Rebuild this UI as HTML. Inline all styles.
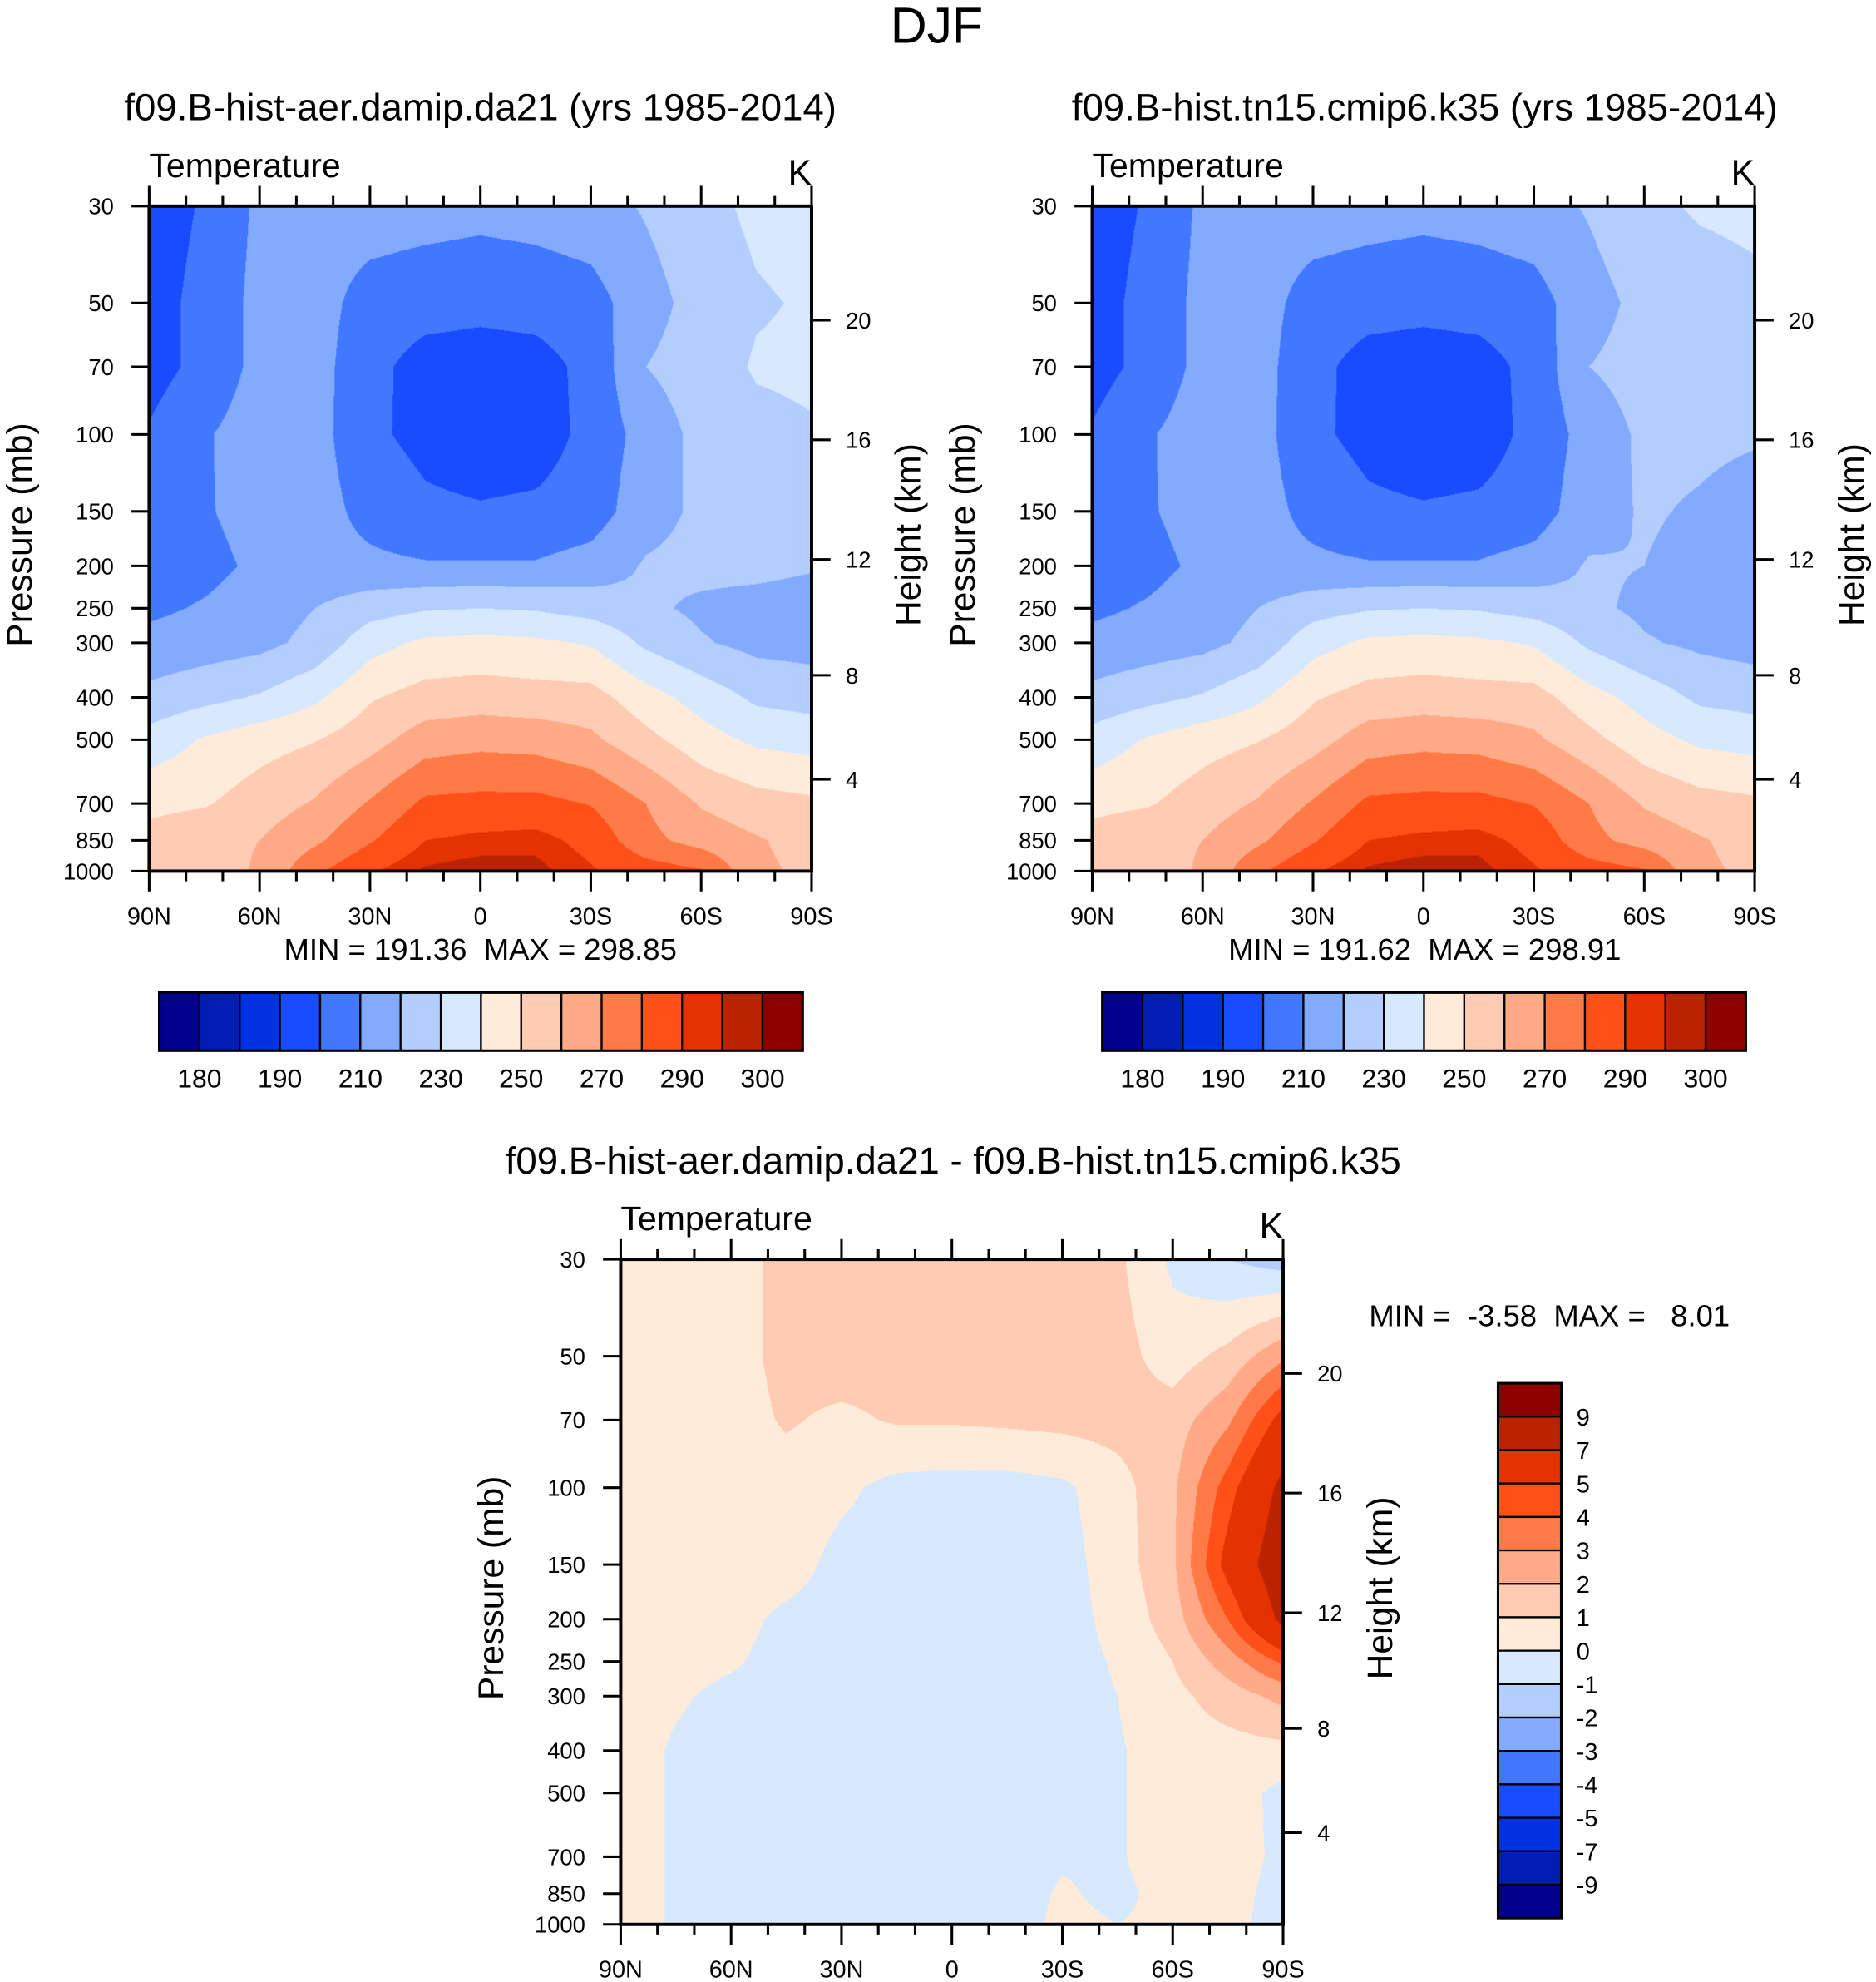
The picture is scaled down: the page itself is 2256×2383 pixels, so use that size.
<!DOCTYPE html>
<html><head><meta charset="utf-8"><style>
html,body{margin:0;padding:0;background:#fff;}
#wrap{position:absolute;left:0;top:0;width:1484px;height:1567px;transform:scale(1.520216);transform-origin:0 0;overflow:hidden;}
canvas{position:absolute;}
svg{position:absolute;left:0;top:0;}
text{font-family:"Liberation Sans",Arial,sans-serif;fill:#000;}
</style></head><body>
<div id="wrap">
<canvas id="c1"></canvas>
<canvas id="c2"></canvas>
<canvas id="c3"></canvas>
<svg id="ov" width="1484" height="1567" viewBox="0 0 1484 1567">
<text x="741" y="34" font-size="40" text-anchor="middle">DJF</text>
<text x="380" y="95" font-size="30" text-anchor="middle">f09.B-hist-aer.damip.da21 (yrs 1985-2014)</text>
<text x="1127" y="95" font-size="30" text-anchor="middle">f09.B-hist.tn15.cmip6.k35 (yrs 1985-2014)</text>
<text x="754" y="928" font-size="30" text-anchor="middle">f09.B-hist-aer.damip.da21 - f09.B-hist.tn15.cmip6.k35</text>
<text x="380" y="759" font-size="24" text-anchor="middle" xml:space="preserve">MIN = 191.36  MAX = 298.85</text>
<text x="1127" y="759" font-size="24" text-anchor="middle" xml:space="preserve">MIN = 191.62  MAX = 298.91</text>
<text x="1083" y="1049" font-size="24" xml:space="preserve">MIN =  -3.58  MAX =   8.01</text>
</svg>
</div>
<script>
const LEV=[30,50,70,100,150,200,250,300,400,500,700,850,1000];
const LATS=[90,75,60,45,30,15,0,-15,-30,-45,-60,-75,-90];
const TLEV=[180,185,190,200,210,220,230,240,250,260,270,280,290,295,300];
const DLEV=[-9,-7,-5,-4,-3,-2,-1,0,1,2,3,4,5,7,9];
const COLORS=["#00008c","#001eb4","#0032e1","#194bff","#4178ff","#82aaff","#b4cdff","#d7e9ff","#ffebda","#ffcbb2","#ffaa87","#ff7a46","#ff5019","#e43200","#b92300","#8c0000"];
const T1=[
[195,201,212,214,215,214,213,214,216,221,227,232,234],
[196,203,213,214,206,204,203,204,206,216,224,229,231],
[196,203,213,214,203,196,195,196,203,220,225,231,232],
[201,209,215,214,202,197,194,195,203,214,223,227,229],
[204,209,214,214,207,202,201,202,205,216,222,223,222],
[205,207,212,213,212,211,211,211,214,221,223,223,221],
[208,211,215,220,226,229,230,229,226,222,218,216,215],
[213,215,217,223,236,242,243,242,239,228,221,217,216],
[223,227,231,238,249,254,255,254,254,244,236,228,226],
[234,241,246,249.5,256,265,267,266,262,253,244,238,236],
[247,249,255,261,271,282,283,283,279.5,270,259,254,252],
[254,258,260,268,279,290,292,293,287,273,266,261,256],
[250,256,261,278,289,296,298,297,291,285,281,262,258]];
const T2=[
[195,201,212,214,215,214,213,214,216,221,228,231,232],
[196,203,213,214,206,204,203,204,206,216,223,226,228],
[196,203,213,214,203,196,195,196,203,220,224,225,226],
[201,209,215,214,202,197,194,195,203,214,222,222,221],
[204,209,214,214,207,202,201,202,205,216,221,219,216],
[205,207,212,213,212,211,211,211,214,221,220,217,215],
[208,211,215,220,226,229,230,229,226,222,218,216,215],
[213,215,217,223,236,242,243,242,239,228,221,218,216],
[223,227,231,238,249,254,255,254,254,244,236,228,226],
[234,241,246,249.5,256,265,267,266,262,253,244,238,236],
[247,249,255,261,271,282,283,283,279.5,270,259,254,252],
[254,258,260,268,279,290,292,293,287,273,266,261,256],
[250,256,261,278,289,296,298,297,291,285,281,262,258]];
const D=[
[0.5,0.5,0.6,1.3,1.6,1.5,1.4,1.4,1.5,1.2,-0.2,-1.0,-1.5],
[0.5,0.5,0.6,1.3,1.5,1.4,1.3,1.3,1.4,1.4,0.5,1.3,2.8],
[0.5,0.5,0.6,1.1,0.8,1.1,1.1,1.2,1.3,1.4,1.5,2.8,5.5],
[0.4,0.4,0.5,0.6,0.2,-0.3,-0.4,-0.4,-0.2,0.6,1.8,4.5,7.5],
[0.4,0.4,0.5,0.4,-0.3,-0.5,-0.5,-0.5,-0.4,0.5,1.8,5.5,8.3],
[0.4,0.4,0.3,-0.2,-0.4,-0.5,-0.5,-0.5,-0.4,0.3,1.5,4.0,7.5],
[0.4,0.3,0.1,-0.3,-0.4,-0.5,-0.5,-0.5,-0.4,0.1,1.0,2.5,4.2],
[0.4,0.1,-0.2,-0.3,-0.4,-0.5,-0.5,-0.5,-0.4,0.0,0.7,1.5,2.3],
[0.4,-0.1,-0.3,-0.3,-0.4,-0.5,-0.5,-0.5,-0.4,-0.1,0.5,0.6,0.7],
[0.4,-0.1,-0.3,-0.3,-0.4,-0.5,-0.5,-0.5,-0.4,-0.1,0.5,0.5,-0.3],
[0.4,-0.1,-0.3,-0.3,-0.4,-0.5,-0.5,-0.4,-0.1,-0.1,0.5,0.4,-0.2],
[0.4,-0.1,-0.3,-0.3,-0.4,-0.5,-0.5,-0.4,0.1,-0.2,0.3,0.3,-0.3],
[0.4,-0.1,-0.3,-0.3,-0.4,-0.5,-0.5,-0.4,0.2,0.0,0.2,0.2,-0.3]];
const PRESS_LABELS=["30","50","70","100","150","200","250","300","400","500","700","850","1000"];
const HEIGHTS=[4,8,12,16,20];
const LAT_LABELS={90:"90N",60:"60N",30:"30N",0:"0","-30":"30S","-60":"60S","-90":"90S"};

const S=2256/1484, PW=524, PH=526;
const LN=Math.log(1000/30);
function yP(top,p){return top+Math.log(p/30)/LN*PH;}
function xLat(left,lat){return left+(90-lat)/180*PW;}
function pOfH(h){const m=h*1000;return m<=11000?1013.25*Math.pow(1-2.25577e-5*m,5.25588):226.32*Math.exp(-(m-11000)/6341.6);}
function hY(top,h){return yP(top,pOfH(h));}
const rgb=COLORS.map(c=>[parseInt(c.substr(1,2),16),parseInt(c.substr(3,2),16),parseInt(c.substr(5,2),16)]);
const LLEV=LEV.map(p=>Math.log(p));

function drawField(id,left,top,data,levs){
  const c=document.getElementById(id);
  const w=Math.round(PW*S),h=Math.round(PH*S);
  c.width=w;c.height=h;
  c.style.left=left+'px';c.style.top=top+'px';c.style.width=PW+'px';c.style.height=PH+'px';
  const ctx=c.getContext('2d');const img=ctx.createImageData(w,h);
  for(let y=0;y<h;y++){
    const lp=Math.log(30)+(y+0.5)/h*LN;
    let k=0;while(k<LEV.length-2&&lp>LLEV[k+1])k++;
    const t=Math.min(1,Math.max(0,(lp-LLEV[k])/(LLEV[k+1]-LLEV[k])));
    for(let x=0;x<w;x++){
      const fx=(x+0.5)/w*12;let i=Math.min(11,Math.floor(fx));const u=fx-i;
      const v=(1-t)*((1-u)*data[k][i]+u*data[k][i+1])+t*((1-u)*data[k+1][i]+u*data[k+1][i+1]);
      let ci=0;while(ci<levs.length&&v>=levs[ci])ci++;
      const o=(y*w+x)*4,col=rgb[ci];
      img.data[o]=col[0];img.data[o+1]=col[1];img.data[o+2]=col[2];img.data[o+3]=255;
    }
  }
  ctx.putImageData(img,0,0);
}
const NS="http://www.w3.org/2000/svg";
const ov=document.getElementById('ov');
function el(tag,attrs){const e=document.createElementNS(NS,tag);for(const k in attrs)e.setAttribute(k,attrs[k]);ov.appendChild(e);return e;}
function txt(x,y,s,size,anchor,extra){const e=el('text',Object.assign({x:x,y:y,'font-size':size,'text-anchor':anchor||'start'},extra||{}));e.textContent=s;return e;}

function drawAxes(n,left,top){
  const g=n;
  const fr=el('rect',{x:left,y:top,width:PW,height:PH,fill:'none',stroke:'#000','stroke-width':2.6});
  
  LEV.forEach((p,j)=>{
    const y=yP(top,p);
    el('line',{x1:left-14,y1:y,x2:left,y2:y,stroke:'#000','stroke-width':2});
    const t=txt(left-28,y+6.5,PRESS_LABELS[j],18,'end');
    
  });
  HEIGHTS.forEach(h=>{
    const y=hY(top,h);
    el('line',{x1:left+PW,y1:y,x2:left+PW+15,y2:y,stroke:'#000','stroke-width':2});
    const t=txt(left+PW+27,y+6.5,String(h),18,'start');
    
  });
  for(let lat=90;lat>=-90;lat-=10){
    const x=xLat(left,lat),maj=lat%30===0,L=maj?16:8;
    el('line',{x1:x,y1:top+PH,x2:x,y2:top+PH+L,stroke:'#000','stroke-width':2});
    el('line',{x1:x,y1:top,x2:x,y2:top-L,stroke:'#000','stroke-width':2});
    if(maj){const t=txt(x,top+PH+42,LAT_LABELS[lat],19,'middle');
      }
  }
  let t=txt(left,top-23,'Temperature',27,'start');
  
  t=txt(left+PW,top-17,'K',28,'end');
  
  const cy=top+PH/2-3;
  t=txt(0,0,'Pressure (mb)',28,'middle',{transform:'translate('+(left-93)+','+cy+') rotate(-90)'});
  
  t=txt(0,0,'Height (km)',28,'middle',{transform:'translate('+(left+PW+86)+','+cy+') rotate(-90)'});
  
}
function hColorbar(n,x0,y0,w,h,levs){
  const bw=w/16;
  for(let i=0;i<16;i++){
    const r=el('rect',{x:x0+i*bw,y:y0,width:bw,height:h,fill:COLORS[i],stroke:'#000','stroke-width':1.5});
    
  }
  el('rect',{x:x0,y:y0,width:w,height:h,fill:'none',stroke:'#000','stroke-width':2});
  for(let k=0;k<levs.length;k+=2){
    const t=txt(x0+(k+1)*bw,y0+h+29,String(levs[k]),21,'middle');
    
  }
}
function vColorbar(x0,y0,w,h,levs){
  const bh=h/16;
  for(let i=0;i<16;i++){
    const r=el('rect',{x:x0,y:y0+i*bh,width:w,height:bh,fill:COLORS[15-i],stroke:'#000','stroke-width':1.5});
    
  }
  el('rect',{x:x0,y:y0,width:w,height:h,fill:'none',stroke:'#000','stroke-width':2});
  for(let k=1;k<=15;k++){
    const t=txt(x0+w+12,y0+k*bh+7,String(levs[15-k]),19,'start');
    
  }
}
drawField('c1',118,163,T1,TLEV);
drawField('c2',864,163,T2,TLEV);
drawField('c3',491,996,D,DLEV);
drawAxes(1,118,163);drawAxes(2,864,163);drawAxes(3,491,996);
hColorbar(1,126,785,509,46,TLEV);
hColorbar(2,872,785,509,46,TLEV);
vColorbar(1185,1094,50,423,DLEV);
</script>
</body></html>
